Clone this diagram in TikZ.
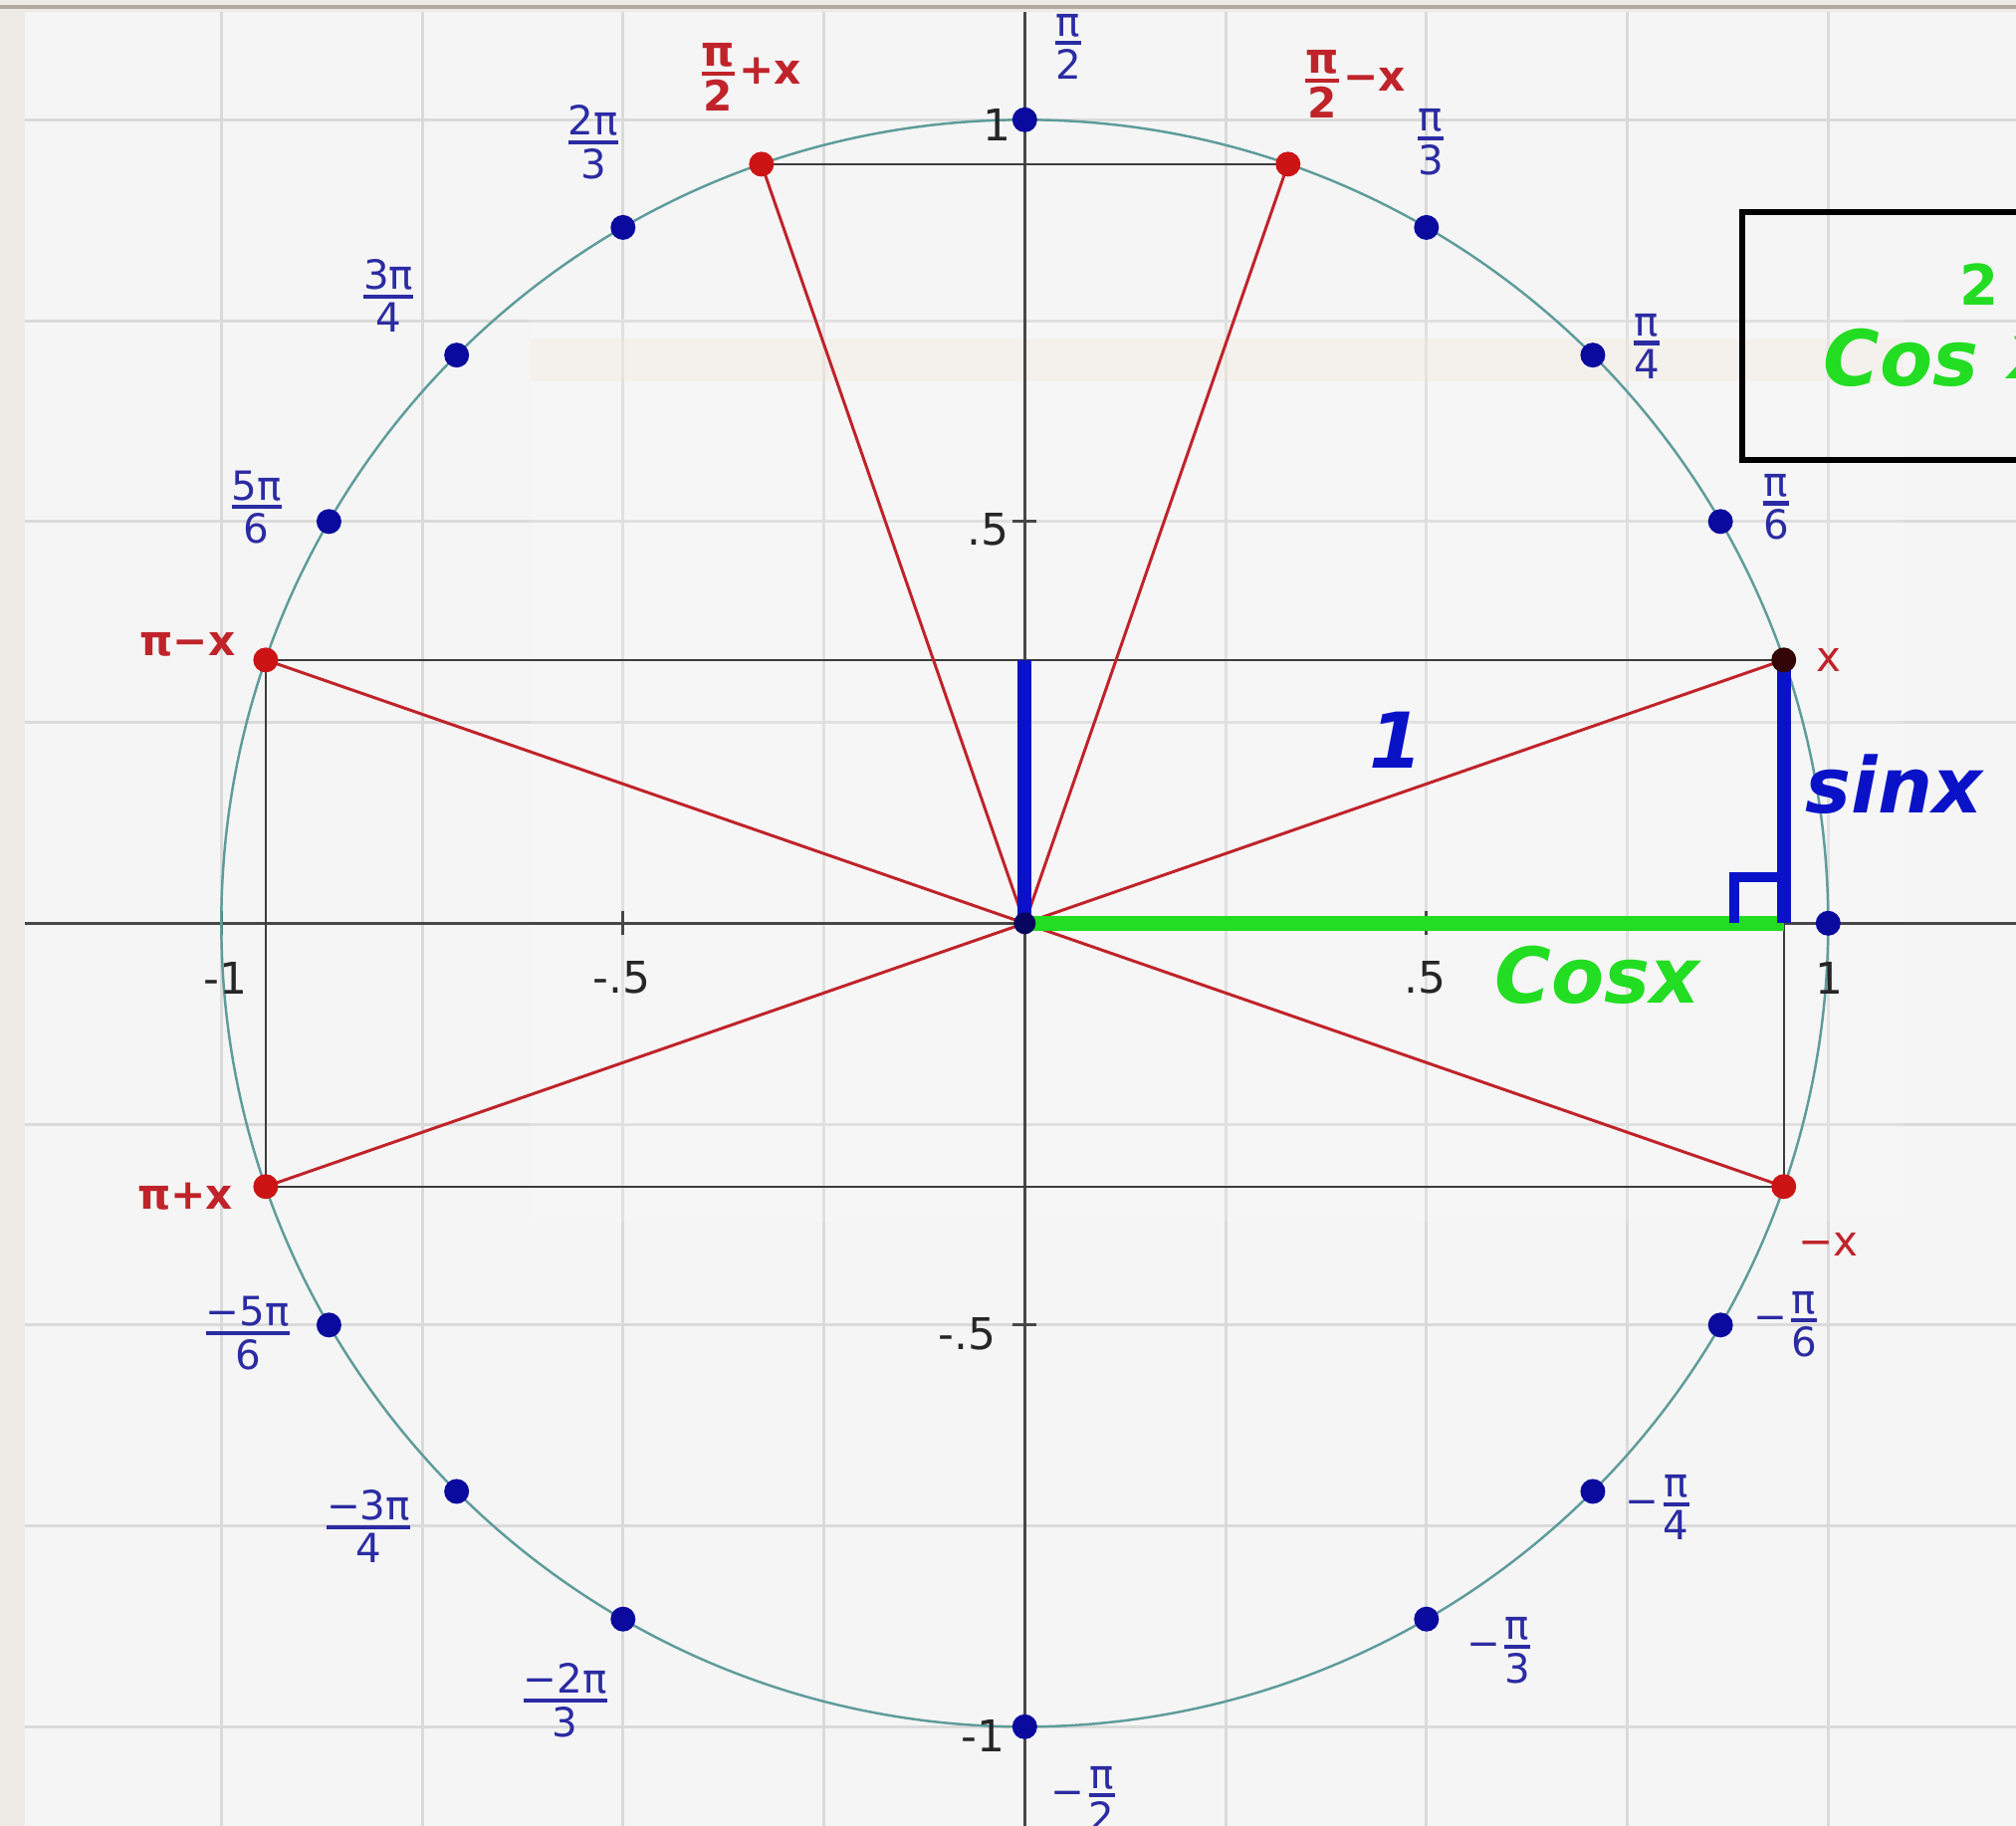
\documentclass[tikz,border=0pt]{standalone}
\usepackage{fontspec}
\usepackage{amsmath}
\setmainfont{DejaVu Sans}
\definecolor{bgc}{HTML}{F5F5F5}
\definecolor{gridc}{HTML}{DADADA}
\definecolor{circc}{HTML}{5E9C9A}
\definecolor{axisc}{HTML}{474747}
\definecolor{linec}{HTML}{3C3C3C}
\definecolor{cRed}{HTML}{C0232A}
\definecolor{cRedDot}{HTML}{CC1414}
\definecolor{cDot}{HTML}{0A0A9E}
\definecolor{cLab}{HTML}{2B2BA3}
\definecolor{cPen}{HTML}{0A12C8}
\definecolor{cGreen}{HTML}{22DD22}
\definecolor{cFrame}{HTML}{EEEAE5}
\definecolor{cFrameD}{HTML}{B3AAA2}
\definecolor{cPeach}{HTML}{F2E6DB}
\newcommand\fr[2]{\ensuremath{\genfrac{}{}{1.2pt}{1}{\mbox{#1}}{\mbox{#2}}}}
\begin{document}
\begin{tikzpicture}[x=8.07cm,y=8.07cm,
  gridl/.style={draw=gridc,line width=0.85pt},
  axisl/.style={draw=axisc,line width=0.8pt},
  circl/.style={draw=circc,line width=0.7pt},
  blackl/.style={draw=linec,line width=0.7pt},
  redseg/.style={draw=cRed,line width=0.85pt},
  bdot/.style={circle,fill=cDot,inner sep=0pt,minimum size=0.25cm},
  rdot/.style={circle,fill=cRedDot,inner sep=0pt,minimum size=0.25cm},
  blab/.style={text=cLab,inner sep=1pt,font=\fontsize{11.5}{13}\selectfont},
  rlab/.style={text=cRed,inner sep=1pt,font=\fontsize{12}{14}\selectfont\bfseries},
  alab/.style={text=black!85,inner sep=1pt,font=\fontsize{12.5}{14}\selectfont},
  hw/.style={inner sep=0pt,font=\fontsize{22}{24}\selectfont\bfseries\itshape}]
\useasboundingbox (-1.2755,-1.1235) rectangle (1.2338,1.1491);
\clip (-1.2755,-1.1235) rectangle (1.2338,1.1491);
\fill[bgc] (-1.2755,-1.1235) rectangle (1.2338,1.1491);
% grid
\foreach \k in {-5,...,4} {\draw[gridl] (\k*0.25,-1.2) -- (\k*0.25,1.2);}
\foreach \k in {-4,...,4} {\draw[gridl] (-1.3,\k*0.25) -- (1.3,\k*0.25);}
% faint ghost window
\fill[white,opacity=0.18] (-0.616,0.753) rectangle (1.094,-0.371);
\fill[cPeach,opacity=0.35] (-0.616,0.728) rectangle (1.094,0.674);
% frame strips
\fill[cFrame] (-1.2755,-1.13) rectangle (-1.2445,1.15);
\fill[cFrame] (-1.28,1.1341) rectangle (1.24,1.1491);
\fill[cFrameD] (-1.28,1.1381) rectangle (1.24,1.1431);
% axes
\coordinate (O) at (0,0);
\coordinate (xl) at (-1.2445,0);
\coordinate (xr) at (1.24,0);
\coordinate (yb) at (0,-1.13);
\coordinate (yt) at (0,1.134);
\draw[axisl] (xl) -- (xr);
\draw[axisl] (yb) -- (yt);
\foreach \t in {-1,-0.5,0.5,1} {
  \draw[axisl] (\t,-0.015) -- (\t,0.015);
  \draw[axisl] (-0.015,\t) -- (0.015,\t);}
% circle
\draw[circl] (O) circle (1);
% key points
\def\ax{19.13}
\coordinate (X) at (\ax:1);
\coordinate (A) at (90+\ax:1);
\coordinate (B) at (90-\ax:1);
\coordinate (PM) at (180-\ax:1);
\coordinate (PP) at (180+\ax:1);
\coordinate (MX) at (-\ax:1);
\coordinate (CX) at ({cos(\ax)},0);
\coordinate (SY) at (0,{sin(\ax)});
% black construction lines
\draw[blackl] (A) -- (B);
\draw[blackl] (PM) -- (X);
\draw[blackl] (PP) -- (MX);
\draw[blackl] (PM) -- (PP);
\draw[blackl] (X) -- (MX);
% red radii
\foreach \p in {X,A,B,PM,PP,MX} {\draw[redseg] (O) -- (\p);}
% highlighted segments
\draw[cGreen,line width=4.2pt] (O) -- (CX);
\draw[cPen,line width=4pt] (O) -- (SY);
\draw[cPen,line width=4pt] (CX) -- (X);
\coordinate (r1) at (0.883,0);
\coordinate (r2) at (0.883,0.057);
\coordinate (r3) at (0.946,0.057);
\draw[cPen,line width=2.8pt] (r1) -- (r2) -- (r3);
% blue dots
\foreach \a in {0,30,45,60,90,120,135,150,-30,-45,-60,-90,-120,-135,-150}
  {\node[bdot] (d\a) at (\a:1) {};}
\node[circle,fill=cDot!60!black,inner sep=0pt,minimum size=0.22cm] (dO) at (O) {};
% red dots
\node[rdot] (nA) at (A) {};
\node[rdot] (nB) at (B) {};
\node[rdot] (nPM) at (PM) {};
\node[rdot] (nPP) at (PP) {};
\node[rdot] (nMX) at (MX) {};
\node[circle,fill=cRedDot!25!black,inner sep=0pt,minimum size=0.25cm] (nX) at (X) {};
% blue angle labels
\node[blab] (l90) at (0.054,1.091) {\fr{π}{2}};
\node[blab] (l60) at (0.505,0.972) {\fr{π}{3}};
\node[blab] (l45) at (0.774,0.718) {\fr{π}{4}};
\node[blab] (l30) at (0.935,0.518) {\fr{π}{6}};
\node[blab] (l120) at (-0.537,0.972) {\fr{2π}{3}};
\node[blab] (l135) at (-0.792,0.781) {\fr{3π}{4}};
\node[blab] (l150) at (-0.956,0.518) {\fr{5π}{6}};
\node[blab] (lm150) at (-0.967,-0.510) {\fr{−5π}{6}};
\node[blab] (lm135) at (-0.817,-0.751) {\fr{−3π}{4}};
\node[blab] (lm120) at (-0.572,-0.967) {\fr{−2π}{3}};
\node[blab] (lm90) at (0.075,-1.090) {−\fr{π}{2}};
\node[blab] (lm60) at (0.592,-0.905) {−\fr{π}{3}};
\node[blab] (lm45) at (0.790,-0.727) {−\fr{π}{4}};
\node[blab] (lm30) at (0.949,-0.499) {−\fr{π}{6}};
% red labels
\node[rlab] (tA) at (-0.343,1.053) {\fr{π}{2}+x};
\node[rlab] (tB) at (0.409,1.044) {\fr{π}{2}−x};
\node[rlab] (tPM) at (-1.042,0.347) {π−x};
\node[rlab] (tPP) at (-1.045,-0.340) {π+x};
\node[rlab,font=\fontsize{12}{14}\selectfont] (tX) at (1.001,0.328) {x};
\node[rlab,font=\fontsize{12}{14}\selectfont] (tMX) at (1.0,-0.400) {−x};
% axis labels
\node[alab] (ay1) at (-0.035,0.994) {1};
\node[alab] (ay2) at (-0.046,0.490) {.5};
\node[alab] (ay3) at (-0.072,-0.511) {-.5};
\node[alab] (ay4) at (-0.052,-1.011) {-1};
\node[alab] (ax1) at (-0.995,-0.068) {-1};
\node[alab] (ax2) at (-0.502,-0.068) {-.5};
\node[alab] (ax3) at (0.498,-0.068) {.5};
\node[alab] (ax4) at (1.001,-0.068) {1};
% handwritten notes
\node[hw,text=cPen] (h1) at (0.462,0.228) {1};
\node[hw,text=cPen] (hsin) at (1.082,0.173) {sinx};
\node[hw,text=cGreen] (hcos) at (0.713,-0.064) {Cosx};
% formula box (cut by the edge)
\draw[black,line width=1.7pt] (0.893,0.576) rectangle (1.30,0.885);
\node[hw,text=cGreen,font=\fontsize{22}{24}\selectfont\itshape\bfseries] (bc) at (1.091,0.704) {Cos};
\node[hw,text=cGreen,font=\fontsize{16}{18}\selectfont\bfseries] (b2) at (1.188,0.795) {2};
\node[hw,text=cGreen,anchor=west] (bx) at (1.224,0.704) {x};
\end{tikzpicture}
\end{document}
